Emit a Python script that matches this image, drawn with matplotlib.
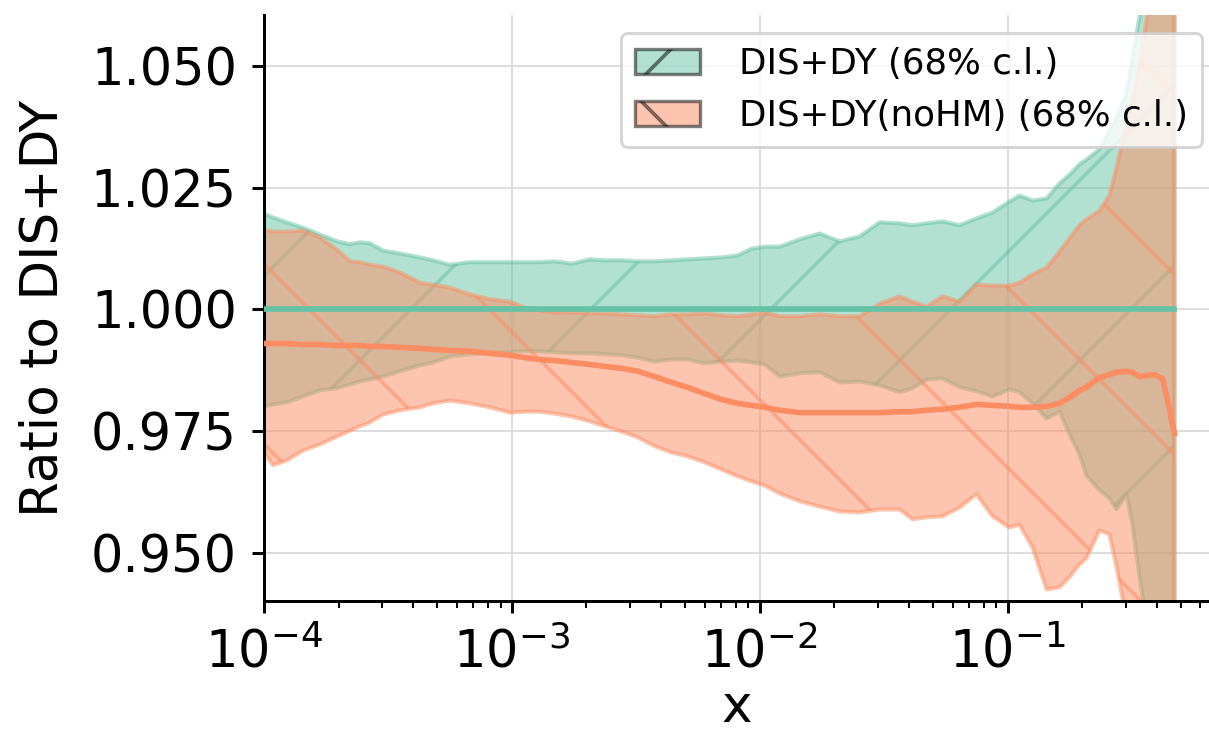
import matplotlib
matplotlib.use("Agg")
import matplotlib.pyplot as plt
import matplotlib.patches as mpatches
from matplotlib.ticker import MultipleLocator, FormatStrFormatter, LogLocator

# x grid shared by all curves
x = [1.000e-4, 1.087e-4, 1.238e-4, 1.436e-4, 1.682e-4, 1.970e-4, 2.223e-4, 2.438e-4,
     2.676e-4, 3.019e-4, 3.535e-4, 4.256e-4, 4.803e-4, 5.623e-4, 6.771e-4, 8.155e-4,
     9.815e-4, 1.128e-3, 1.297e-3, 1.491e-3, 1.746e-3, 2.063e-3, 2.371e-3, 2.777e-3,
     3.223e-3, 3.773e-3, 4.418e-3, 5.126e-3, 6.000e-3, 7.027e-3, 8.155e-3, 9.284e-3,
     1.048e-2, 1.204e-2, 1.450e-2, 1.745e-2, 2.102e-2, 2.531e-2, 3.047e-2, 3.668e-2,
     4.140e-2, 4.714e-2, 5.470e-2, 6.405e-2, 7.499e-2, 8.700e-2, 1.019e-1, 1.118e-1,
     1.261e-1, 1.437e-1, 1.621e-1, 1.778e-1, 1.951e-1, 2.082e-1, 2.350e-1, 2.578e-1,
     2.751e-1, 3.019e-1, 3.192e-1, 3.406e-1, 3.635e-1, 3.914e-1, 4.217e-1, 4.418e-1,
     4.714e-1]

# DIS+DY: 68% c.l. band (ratio to itself, central value = 1)
ref_up = [1.0197, 1.0189, 1.0179, 1.0168, 1.0154, 1.0140, 1.0134, 1.0138,
          1.0136, 1.0121, 1.0115, 1.0107, 1.0101, 1.0092, 1.0097, 1.0097,
          1.0097, 1.0097, 1.0097, 1.0099, 1.0094, 1.0103, 1.0101, 1.0101,
          1.0099, 1.0099, 1.0101, 1.0103, 1.0105, 1.0107, 1.0111, 1.0125,
          1.0129, 1.0129, 1.0144, 1.0156, 1.0140, 1.0150, 1.0179, 1.0177,
          1.0173, 1.0177, 1.0181, 1.0173, 1.0187, 1.0199, 1.0222, 1.0234,
          1.0224, 1.0228, 1.0259, 1.0277, 1.0298, 1.0308, 1.0329, 1.0368,
          1.0394, 1.0446, 1.0516, 1.0600, 1.0680, 1.0760, 1.0840, 1.0900,
          1.0990]
ref_dn = [0.9801, 0.9805, 0.9809, 0.9821, 0.9834, 0.9838, 0.9846, 0.9852,
          0.9856, 0.9862, 0.9873, 0.9885, 0.9891, 0.9903, 0.9908, 0.9910,
          0.9912, 0.9914, 0.9914, 0.9912, 0.9910, 0.9910, 0.9908, 0.9906,
          0.9901, 0.9893, 0.9897, 0.9897, 0.9889, 0.9893, 0.9895, 0.9891,
          0.9887, 0.9862, 0.9869, 0.9871, 0.9850, 0.9852, 0.9844, 0.9830,
          0.9838, 0.9856, 0.9858, 0.9840, 0.9832, 0.9821, 0.9836, 0.9830,
          0.9807, 0.9776, 0.9790, 0.9743, 0.9702, 0.9659, 0.9628, 0.9612,
          0.9589, 0.9620, 0.9558, 0.9450, 0.9363, 0.9281, 0.9199, 0.9137,
          0.9076]
ref_cv = [1.0] * len(x)

# DIS+DY(noHM): central value and 68% c.l. band, normalised to DIS+DY
nohm_up = [1.0164, 1.0160, 1.0160, 1.0162, 1.0148, 1.0123, 1.0099, 1.0097,
           1.0092, 1.0088, 1.0076, 1.0055, 1.0051, 1.0045, 1.0031, 1.0021,
           1.0016, 1.0004, 0.9998, 0.9994, 0.9994, 0.9992, 0.9992, 0.9990,
           0.9988, 0.9986, 0.9990, 0.9990, 0.9992, 0.9988, 0.9986, 0.9990,
           0.9994, 0.9986, 0.9986, 0.9990, 0.9986, 0.9986, 1.0012, 1.0027,
           1.0016, 1.0006, 1.0027, 1.0016, 1.0051, 1.0049, 1.0049, 1.0055,
           1.0072, 1.0086, 1.0119, 1.0146, 1.0173, 1.0185, 1.0203, 1.0234,
           1.0290, 1.0382, 1.0431, 1.0501, 1.0594, 1.0678, 1.0760, 1.0822,
           1.0904]
nohm_dn = [0.9706, 0.9680, 0.9690, 0.9710, 0.9723, 0.9739, 0.9751, 0.9760,
           0.9768, 0.9784, 0.9793, 0.9799, 0.9807, 0.9813, 0.9807, 0.9799,
           0.9788, 0.9790, 0.9790, 0.9786, 0.9780, 0.9770, 0.9760, 0.9749,
           0.9737, 0.9719, 0.9706, 0.9698, 0.9686, 0.9671, 0.9657, 0.9647,
           0.9638, 0.9622, 0.9606, 0.9595, 0.9585, 0.9583, 0.9589, 0.9589,
           0.9569, 0.9573, 0.9575, 0.9593, 0.9620, 0.9575, 0.9552, 0.9558,
           0.9511, 0.9425, 0.9429, 0.9450, 0.9476, 0.9489, 0.9546, 0.9538,
           0.9472, 0.9363, 0.9281, 0.9199, 0.9117, 0.9035, 0.8952, 0.8891,
           0.8829]
nohm_cv = [0.9930, 0.9930, 0.9930, 0.9928, 0.9928, 0.9926, 0.9926, 0.9926,
           0.9924, 0.9924, 0.9922, 0.9920, 0.9918, 0.9916, 0.9914, 0.9910,
           0.9906, 0.9901, 0.9897, 0.9895, 0.9891, 0.9887, 0.9883, 0.9879,
           0.9873, 0.9862, 0.9850, 0.9840, 0.9827, 0.9815, 0.9807, 0.9803,
           0.9799, 0.9793, 0.9788, 0.9788, 0.9788, 0.9788, 0.9788, 0.9790,
           0.9790, 0.9793, 0.9795, 0.9799, 0.9805, 0.9803, 0.9801, 0.9799,
           0.9799, 0.9801, 0.9807, 0.9819, 0.9834, 0.9840, 0.9860, 0.9866,
           0.9871, 0.9873, 0.9871, 0.9862, 0.9864, 0.9866, 0.9858, 0.9815,
           0.9745]

labels = ["DIS+DY (68% c.l.)", "DIS+DY(noHM) (68% c.l.)"]
colors = ["#66c2a5", "#fc8d62"]
hatches = ["/", "\\"]

DPI = 540
plt.rcParams["hatch.linewidth"] = 0.5
plt.rcParams["font.family"] = "DejaVu Sans"

fig = plt.figure(figsize=(1209 / DPI, 733 / DPI), dpi=DPI)
ax = fig.add_axes([264 / 1209, 132 / 733, 945 / 1209, 586 / 733])

bands = [(ref_dn, ref_up, ref_cv), (nohm_dn, nohm_up, nohm_cv)]
handles = []
for (dn, up, cv), col, h, lab in zip(bands, colors, hatches, labels):
    ax.fill_between(x, dn, up, facecolor=col, edgecolor=col, alpha=0.5,
                    hatch=h, linewidth=0.55, zorder=2)
    handles.append(mpatches.Patch(facecolor=col, edgecolor="black", alpha=0.5,
                                  hatch=h, linewidth=0.45, label=lab))
for (dn, up, cv), col in zip(bands, colors):
    ax.plot(x, cv, color=col, linewidth=0.75, zorder=3)

ax.set_xscale("log")
ax.set_xlim(1e-4, 0.65)
ax.set_ylim(0.9401, 1.0605)
ax.yaxis.set_major_locator(MultipleLocator(0.025))
ax.yaxis.set_major_formatter(FormatStrFormatter("%.3f"))
ax.xaxis.set_major_locator(LogLocator(base=10, numticks=10))
ax.xaxis.set_minor_locator(LogLocator(base=10, subs=range(2, 10), numticks=20))

ax.grid(True, which="major", color="#dddddd", linewidth=0.27, zorder=0)
ax.set_axisbelow(True)

for side in ("top", "right"):
    ax.spines[side].set_visible(False)
for side in ("left", "bottom"):
    ax.spines[side].set_linewidth(0.4)

ax.tick_params(axis="both", which="major", length=1.6, width=0.4, labelsize=6.8, pad=2.0)
ax.tick_params(axis="x", which="minor", length=0.9, width=0.27)
ax.tick_params(axis="x", which="major", pad=2.0)

ax.set_xlabel("x", fontsize=6.9, labelpad=0.6)
ax.set_ylabel("Ratio to DIS+DY", fontsize=6.9, labelpad=3.0)

leg = ax.legend(handles=handles, loc="upper right", fontsize=4.75,
                bbox_to_anchor=(1202 / 1209, 1 - 33 / 733),
                bbox_transform=fig.transFigure, borderaxespad=0.0,
                handlelength=1.8, handletextpad=1.1, borderpad=0.4)
leg.get_frame().set_linewidth(0.4)

fig.savefig("out.png", dpi=DPI)
